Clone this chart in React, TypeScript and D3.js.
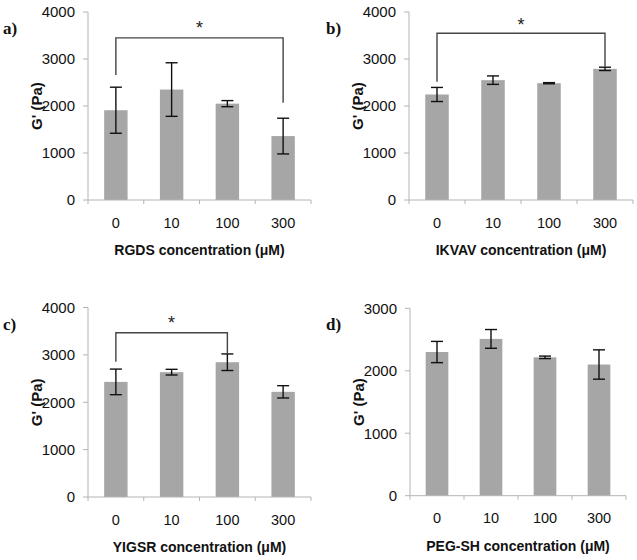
import React from "react";
import * as d3 from "d3";

const categories = ["0", "10", "100", "300"];

const rgdsMean = [1910, 2350, 2050, 1360];
const rgdsErr = [490, 570, 65, 380];
const ikvavMean = [2245, 2550, 2485, 2790];
const ikvavErr = [150, 90, 12, 35];
const yigsrMean = [2430, 2635, 2845, 2220];
const yigsrErr = [270, 60, 175, 130];
const pegMean = [2300, 2510, 2215, 2100];
const pegErr = [170, 150, 20, 235];

const ticks4000 = [0, 1000, 2000, 3000, 4000];
const ticks3000 = [0, 1000, 2000, 3000];

const panelLetters = ["a)", "b)", "c)", "d)"];
const xTitles = [
  "RGDS concentration (μM)",
  "IKVAV concentration (μM)",
  "YIGSR concentration (μM)",
  "PEG-SH concentration (μM)",
];
const yTitle = "G' (Pa)";

// significance brackets: [fromIndex, toIndex, level, leftLegEnd, rightLegEnd, starLevel]
const sigA = [0, 3, 3450, 2660, 2070, 3755];
const sigB = [0, 3, 3547, 2517, 2836, 3819];
const sigC = [0, 2, 3466, 2854, 3017, 3766];

type Layout = { x0: number; x1: number; yTop: number; y0: number; letterX: number; letterY: number };

const SANS = "'Liberation Sans', Arial, sans-serif";
const SERIF = "'Liberation Serif', 'Times New Roman', serif";

function Panel({
  layout, means, errs, yMax, ticks, letter, title, sig,
}: {
  layout: Layout; means: number[]; errs: number[]; yMax: number; ticks: number[];
  letter: string; title: string; sig: number[] | null;
}) {
  const x = d3.scaleBand<string>().domain(categories).range([layout.x0, layout.x1]).paddingInner(0).paddingOuter(0);
  const y = d3.scaleLinear().domain([0, yMax]).range([layout.y0, layout.yTop]);
  const bw = x.bandwidth() * 0.42;
  const cx = (c: string) => (x(c) as number) + x.bandwidth() / 2;
  const capW = 6;
  const axisColor = "#b4b4b4";
  const boundaries = d3.range(categories.length + 1).map((i) => layout.x0 + i * x.bandwidth());
  return (
    <g>
      {means.map((m, i) => {
        const c = categories[i];
        return (
          <rect key={"b" + i} x={cx(c) - bw / 2} y={y(m)} width={bw} height={y(0) - y(m)} fill="#a6a6a6" />
        );
      })}
      {/* y axis */}
      <line x1={layout.x0} x2={layout.x0} y1={y(0)} y2={y(yMax)} stroke={axisColor} strokeWidth={1} />
      {ticks.map((t) => (
        <g key={"t" + t}>
          <line x1={layout.x0 - 5} x2={layout.x0} y1={y(t)} y2={y(t)} stroke={axisColor} strokeWidth={1} />
          <text x={layout.x0 - 13} y={y(t)} dy="0.36em" textAnchor="end" fontFamily={SANS} fontSize={15} fill="#111">
            {t}
          </text>
        </g>
      ))}
      {/* x axis */}
      <line x1={layout.x0} x2={layout.x1} y1={y(0)} y2={y(0)} stroke={axisColor} strokeWidth={1} />
      {boundaries.map((bx, i) => (
        <line key={"xb" + i} x1={bx} x2={bx} y1={y(0)} y2={y(0) + 4} stroke={axisColor} strokeWidth={1} />
      ))}
      {categories.map((c) => (
        <text key={"xl" + c} x={cx(c)} y={y(0) + 27.5} textAnchor="middle" fontFamily={SANS} fontSize={14.5} fill="#111">
          {c}
        </text>
      ))}
      {/* error bars */}
      {means.map((m, i) => {
        const c = categories[i];
        const X = cx(c);
        const hi = y(m + errs[i]);
        const lo = y(m - errs[i]);
        return (
          <g key={"e" + i} stroke="#111" strokeWidth={1.4}>
            <line x1={X} x2={X} y1={hi} y2={lo} />
            <line x1={X - capW} x2={X + capW} y1={hi} y2={hi} />
            <line x1={X - capW} x2={X + capW} y1={lo} y2={lo} />
          </g>
        );
      })}
      {/* significance bracket */}
      {sig && (() => {
        const xa = cx(categories[sig[0]]);
        const xb = cx(categories[sig[1]]);
        const path = d3.path();
        path.moveTo(xa, y(sig[3]));
        path.lineTo(xa, y(sig[2]));
        path.lineTo(xb, y(sig[2]));
        path.lineTo(xb, y(sig[4]));
        return (
          <g>
            <path d={path.toString()} fill="none" stroke="#444" strokeWidth={1.4} />
            <text x={(xa + xb) / 2} y={y(sig[5]) + 10} textAnchor="middle" fontFamily={SANS} fontSize={18} fill="#222">
              *
            </text>
          </g>
        );
      })()}
      {/* titles */}
      <text x={(layout.x0 + layout.x1) / 2} y={y(0) + 55} textAnchor="middle" fontFamily={SANS} fontWeight="bold" fontSize={14} fill="#111">
        {title}
      </text>
      <text
        transform={`translate(${layout.x0 - 46},${(layout.y0 + layout.yTop) / 2}) rotate(-90)`}
        textAnchor="middle"
        fontFamily={SANS}
        fontWeight="bold"
        fontSize={15}
        fill="#111"
      >
        {yTitle}
      </text>
      <text x={layout.letterX} y={layout.letterY} fontFamily={SERIF} fontWeight="bold" fontSize={17} fill="#111">
        {letter}
      </text>
    </g>
  );
}

export default function App() {
  const layouts: Layout[] = [
    { x0: 88, x1: 311, yTop: 12, y0: 200, letterX: 3, letterY: 34 },
    { x0: 409, x1: 633, yTop: 12, y0: 200, letterX: 326, letterY: 34 },
    { x0: 88, x1: 311, yTop: 307.5, y0: 497, letterX: 3, letterY: 330 },
    { x0: 410, x1: 626, yTop: 308.3, y0: 495.7, letterX: 326, letterY: 330 },
  ];
  return (
    <svg width={637} height={560} style={{ position: "absolute", left: 0, top: 0, background: "#fff" }}>
      <rect width={637} height={560} fill="#fff" />
      <Panel layout={layouts[0]} means={rgdsMean} errs={rgdsErr} yMax={4000} ticks={ticks4000} letter={panelLetters[0]} title={xTitles[0]} sig={sigA} />
      <Panel layout={layouts[1]} means={ikvavMean} errs={ikvavErr} yMax={4000} ticks={ticks4000} letter={panelLetters[1]} title={xTitles[1]} sig={sigB} />
      <Panel layout={layouts[2]} means={yigsrMean} errs={yigsrErr} yMax={4000} ticks={ticks4000} letter={panelLetters[2]} title={xTitles[2]} sig={sigC} />
      <Panel layout={layouts[3]} means={pegMean} errs={pegErr} yMax={3000} ticks={ticks3000} letter={panelLetters[3]} title={xTitles[3]} sig={null} />
    </svg>
  );
}
